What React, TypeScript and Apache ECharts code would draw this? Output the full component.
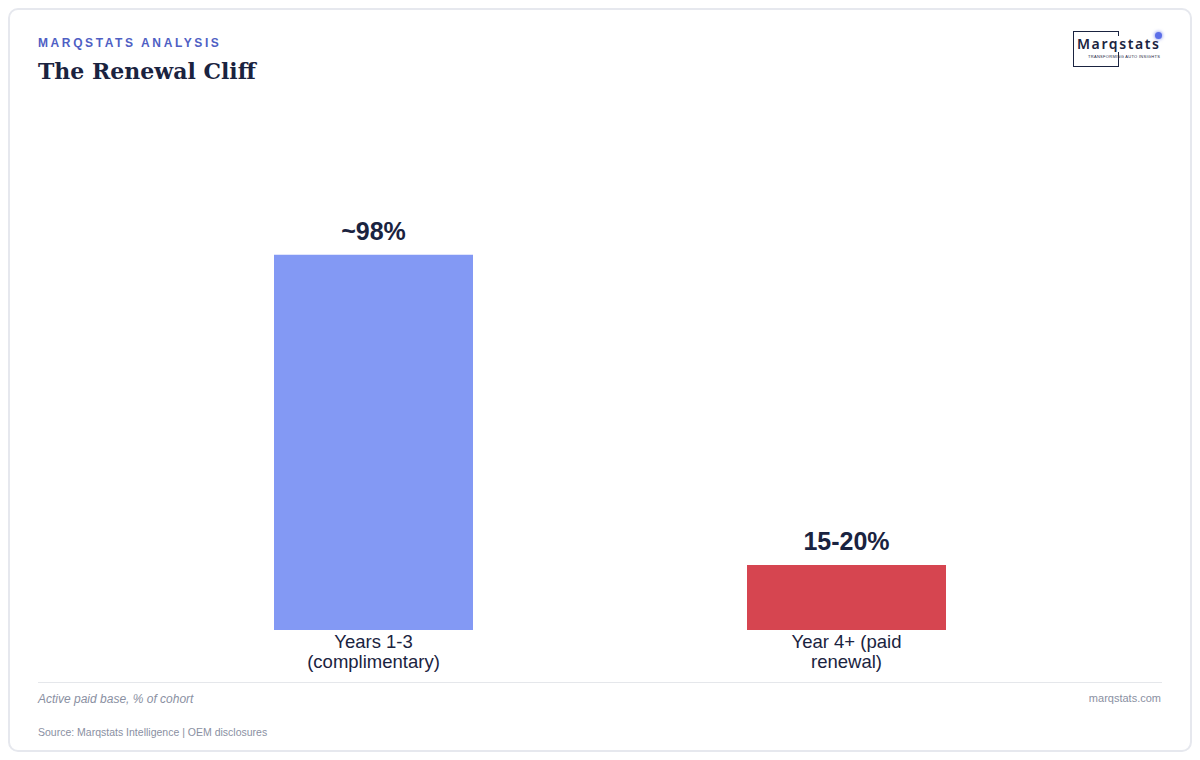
import { useEffect, useRef } from "react";
import * as echarts from "echarts";

const categories = ["Years 1-3\n(complimentary)", "Year 4+ (paid\nrenewal)"];
const values = [98, 17];
const valueLabels = ["~98%", "15-20%"];
const barColors = ["#8399F4", "#D64550"];

const SANS = '"Liberation Sans", Arial, Helvetica, sans-serif';
const INK = "#1A2340";
const MUTED = "#8A90A2";

function RenewalChart() {
  const ref = useRef<HTMLDivElement>(null);

  useEffect(() => {
    if (!ref.current) return;
    const chart = echarts.init(ref.current, null, { renderer: "svg" });
    chart.setOption({
      animation: false,
      backgroundColor: "transparent",
      grid: { left: 137, right: 117, top: 247, bottom: 130 },
      xAxis: {
        type: "category",
        data: categories,
        axisLine: { show: false },
        axisTick: { show: false },
        axisLabel: {
          color: INK,
          fontFamily: SANS,
          fontSize: 18.5,
          lineHeight: 20,
          margin: 1,
          interval: 0,
        },
      },
      yAxis: {
        type: "value",
        min: 0,
        max: 100,
        show: false,
        splitLine: { show: false },
      },
      series: [
        {
          type: "bar",
          barWidth: 199,
          data: values.map((v, i) => ({
            value: v,
            itemStyle: { color: barColors[i] },
            label: { formatter: valueLabels[i] },
          })),
          label: {
            show: true,
            position: "top",
            distance: 11,
            color: INK,
            fontFamily: SANS,
            fontSize: 25,
            fontWeight: "bold",
          },
        },
      ],
    });
    return () => chart.dispose();
  }, []);

  return (
    <div
      ref={ref}
      style={{ position: "absolute", left: 0, top: 0, width: 1200, height: 760 }}
    />
  );
}

function Logo() {
  return (
    <div style={{ position: "absolute", left: 1073, top: 31, width: 95, height: 40 }}>
      <div
        style={{
          position: "absolute",
          left: 0,
          top: 0,
          width: 46,
          height: 36,
          border: `1px solid ${INK}`,
          boxSizing: "border-box",
        }}
      />
      <div
        style={{
          position: "absolute",
          left: 3,
          top: 5,
          background: "#fff",
          color: INK,
          fontFamily: '"Noto Sans", "DejaVu Sans", sans-serif',
          fontSize: 14,
          fontWeight: 600,
          letterSpacing: 1.6,
          lineHeight: "16px",
          padding: "0 1px",
        }}
      >
        Marqstats
      </div>
      <div
        style={{
          position: "absolute",
          left: 15,
          top: 23,
          color: INK,
          fontFamily: SANS,
          fontSize: 4,
          lineHeight: "5px",
          whiteSpace: "nowrap",
          letterSpacing: 0.3,
        }}
      >
        TRANSFORMING AUTO INSIGHTS
      </div>
      <div
        style={{
          position: "absolute",
          left: 82,
          top: 1,
          width: 7,
          height: 7,
          borderRadius: "50%",
          background: "#5B6EE8",
          boxShadow: "0 0 3px 1px rgba(91,110,232,0.5)",
        }}
      />
    </div>
  );
}

export default function App() {
  useEffect(() => {
    document.body.style.margin = "0";
  }, []);

  return (
    <div style={{ position: "relative", width: 1200, height: 760, background: "#fff", overflow: "hidden" }}>
      <div
        style={{
          position: "absolute",
          left: 8,
          top: 8,
          width: 1184,
          height: 744,
          boxSizing: "border-box",
          border: "2px solid #E6E8EE",
          borderRadius: 10,
          background: "#fff",
        }}
      />
      <div
        style={{
          position: "absolute",
          left: 38,
          top: 36,
          color: "#4F5FC4",
          fontFamily: SANS,
          fontSize: 12,
          fontWeight: "bold",
          letterSpacing: 2.6,
          lineHeight: "14px",
          whiteSpace: "nowrap",
        }}
      >
        MARQSTATS ANALYSIS
      </div>
      <div
        style={{
          position: "absolute",
          left: 38,
          top: 56,
          color: INK,
          fontFamily: '"DejaVu Serif", Georgia, serif',
          fontSize: 22,
          fontWeight: "bold",
          lineHeight: "30px",
          whiteSpace: "nowrap",
        }}
      >
        The Renewal Cliff
      </div>
      <Logo />
      <RenewalChart />
      <div
        style={{
          position: "absolute",
          left: 38,
          top: 682,
          width: 1124,
          height: 1,
          background: "#E5E7EB",
        }}
      />
      <div
        style={{
          position: "absolute",
          left: 38,
          top: 691,
          color: MUTED,
          fontFamily: SANS,
          fontSize: 12,
          fontStyle: "italic",
          lineHeight: "16px",
          whiteSpace: "nowrap",
        }}
      >
        Active paid base, % of cohort
      </div>
      <div
        style={{
          position: "absolute",
          right: 39,
          top: 691,
          color: MUTED,
          fontFamily: SANS,
          fontSize: 11,
          lineHeight: "14px",
          whiteSpace: "nowrap",
        }}
      >
        marqstats.com
      </div>
      <div
        style={{
          position: "absolute",
          left: 38,
          top: 725,
          color: MUTED,
          fontFamily: SANS,
          fontSize: 10.5,
          lineHeight: "14px",
          whiteSpace: "nowrap",
        }}
      >
        Source: Marqstats Intelligence | OEM disclosures
      </div>
    </div>
  );
}
